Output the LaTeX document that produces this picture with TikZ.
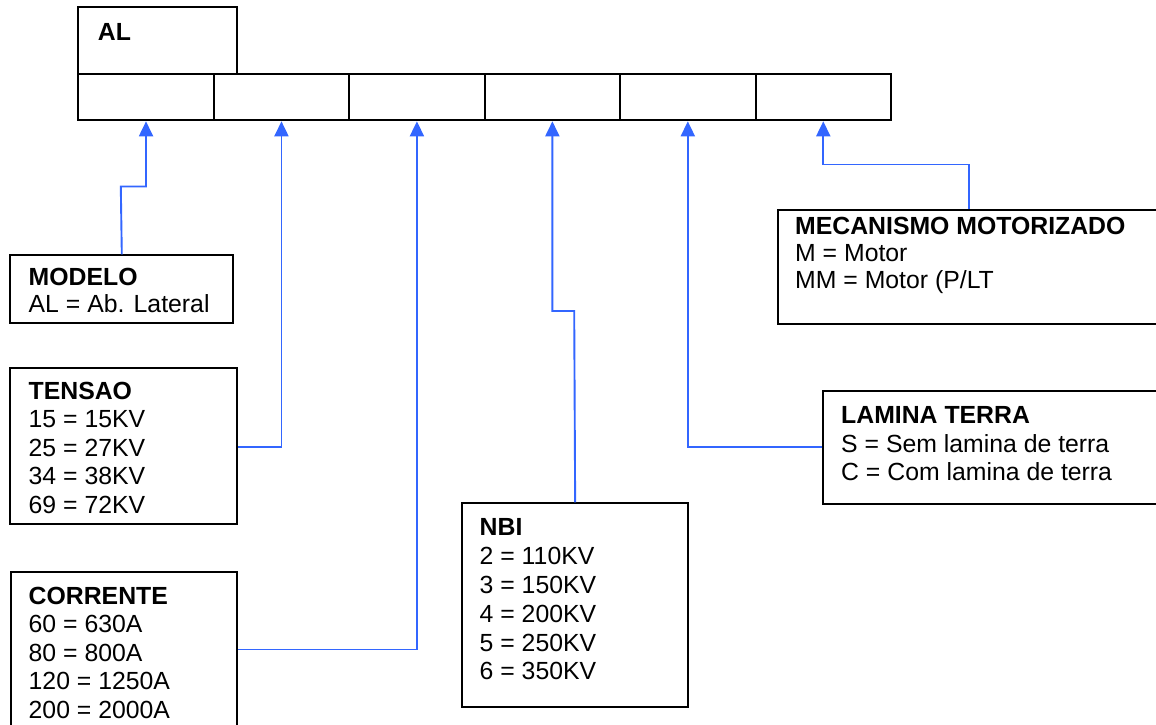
\documentclass[tikz,border=0pt]{standalone}
\usepackage{fontspec}
\setmainfont{Liberation Sans}
\usetikzlibrary{arrows.meta}
\definecolor{conblue}{RGB}{51,102,255}
\begin{document}
\begin{tikzpicture}[x=1pt,y=-1pt,
  box/.style={draw=black, line width=2pt, anchor=north west, inner sep=0pt, rectangle},
  cell/.style={box, minimum width=135.45pt, minimum height=46pt},
  txt/.style={anchor=base west, inner sep=0pt, font=\fontsize{24.8}{28}\selectfont},
  hd/.style={anchor=base west, inner sep=0pt, font=\fontsize{24.8}{28}\selectfont\bfseries},
  conn/.style={draw=conblue, line width=1.9pt, -{Triangle[width=14pt,length=15pt]}}]
\useasboundingbox (0,0) rectangle (1156,725);
\clip (0,0) rectangle (1156,725);

% top code boxes
\node[box, minimum width=158.7pt, minimum height=67.3pt] (al) at (77.3,6) {};
\node[hd] (altxt) at (97.7,40.7) {AL};
\foreach \i in {1,...,6} {
  \node[cell] (c\i) at ({77.3+(\i-1)*135.45},73.3) {};
}

% MODELO
\node[box, minimum width=223pt, minimum height=67.4pt] (modelo) at (9.3,254.3) {};
\node[hd]  (modelo1) at (28.5,285.7) {MODELO};
\node[txt] (modelo2) at (28.5,312.7) {AL = Ab. Lateral};

% TENSAO
\node[box, minimum width=226.7pt, minimum height=156pt] (tensao) at (9.3,367.3) {};
\node[hd]  (tensao1) at (28.5,399) {TENSAO};
\node[txt] (tensao2) at (28.5,427.5) {15 = 15KV};
\node[txt] (tensao3) at (28.5,456) {25 = 27KV};
\node[txt] (tensao4) at (28.5,484.5) {34 = 38KV};
\node[txt] (tensao5) at (28.5,513) {69 = 72KV};

% CORRENTE
\node[box, minimum width=226pt, minimum height=170pt] (corr) at (10,570.7) {};
\node[hd]  (corr1) at (28.5,604) {CORRENTE};
\node[txt] (corr2) at (28.5,632.5) {60 = 630A};
\node[txt] (corr3) at (28.5,661) {80 = 800A};
\node[txt] (corr4) at (28.5,689.5) {120 = 1250A};
\node[txt] (corr5) at (28.5,718) {200 = 2000A};

% NBI
\node[box, minimum width=226.3pt, minimum height=203.4pt] (nbi) at (461,502.3) {};
\node[hd]  (nbi1) at (479.5,535.7) {NBI};
\node[txt] (nbi2) at (479.5,564.5) {2 = 110KV};
\node[txt] (nbi3) at (479.5,593.3) {3 = 150KV};
\node[txt] (nbi4) at (479.5,622) {4 = 200KV};
\node[txt] (nbi5) at (479.5,651) {5 = 250KV};
\node[txt] (nbi6) at (479.5,679) {6 = 350KV};

% LAMINA TERRA
\node[box, minimum width=350pt, minimum height=112.7pt] (lamina) at (822.3,390) {};
\node[hd]  (lamina1) at (841,423.3) {LAMINA TERRA};
\node[txt] (lamina2) at (841,452.3) {S = Sem lamina de terra};
\node[txt] (lamina3) at (841,480.7) {C = Com lamina de terra};

% MECANISMO MOTORIZADO
\node[box, minimum width=400pt, minimum height=113.4pt] (mec) at (776.7,209.3) {};
\node[hd]  (mec1) at (795,234) {MECANISMO MOTORIZADO};
\node[txt] (mec2) at (795,261.5) {M = Motor};
\node[txt] (mec3) at (795,288.5) {MM = Motor (P/LT};

% elbows
\coordinate (e1) at (120.8,186.5);
\coordinate (e2) at (0,447);
\coordinate (e3) at (0,649.5);
\coordinate (e4) at (574.2,311);
\coordinate (e6) at (968.7,164.5);

% connectors
\draw[conn] (modelo.north) -- (e1) -| (c1.south);
\draw[conn] (tensao.east |- e2) -| (c2.south);
\draw[conn] (corr.east |- e3) -| (c3.south);
\draw[conn] (nbi.north) -- (e4) -| (c4.south);
\draw[conn] (lamina.west |- e2) -| (c5.south);
\draw[conn] (e6 |- mec.north) -- (e6) -| (c6.south);
\end{tikzpicture}
\end{document}
